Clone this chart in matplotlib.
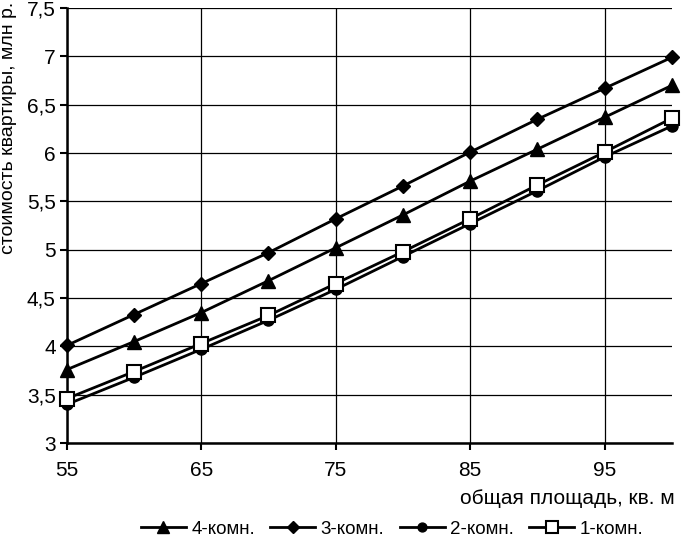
import numpy as np
import matplotlib
matplotlib.use('agg')
import matplotlib.pyplot as plt

plt.rcParams['font.family'] = ['Liberation Sans', 'DejaVu Sans']

area = [55, 60, 65, 70, 75, 80, 85, 90, 95, 100]
room4 = [3.76, 4.05, 4.35, 4.68, 5.02, 5.36, 5.71, 6.04, 6.37, 6.70]
room3 = [4.01, 4.33, 4.65, 4.97, 5.32, 5.66, 6.01, 6.35, 6.67, 6.99]
room2 = [3.40, 3.68, 3.97, 4.27, 4.59, 4.93, 5.27, 5.61, 5.96, 6.28]
room1 = [3.46, 3.74, 4.03, 4.32, 4.65, 4.98, 5.32, 5.67, 6.01, 6.36]
labels = ["4-комн.", "3-комн.", "2-комн.", "1-комн."]

xticks = [55, 65, 75, 85, 95]
yticks = np.arange(3, 7.51, 0.5)

fig = plt.figure(figsize=(6.82, 5.41), dpi=100)
ax = fig.add_axes([0.098, 0.181, 0.887, 0.804])

ax.plot(area, room4, color='black', lw=2, marker='^', ms=10, clip_on=False, zorder=3, label=labels[0])
ax.plot(area, room3, color='black', lw=2, marker='D', ms=7.5, clip_on=False, zorder=3, label=labels[1])
ax.plot(area, room2, color='black', lw=2, marker='o', ms=8, clip_on=False, zorder=3, label=labels[2])
ax.plot(area, room1, color='black', lw=2, marker='s', ms=10, mfc='white', mew=1.5,
        clip_on=False, zorder=4, label=labels[3])

ax.set_xlim(55, 100)
ax.set_ylim(3, 7.5)
ax.set_xticks(xticks)
ax.set_yticks(yticks)
ax.set_yticklabels([("%g" % v).replace('.', ',') for v in yticks])
ax.grid(True, color='black', lw=0.9)
ax.set_axisbelow(True)

for s in ['top', 'right']:
    ax.spines[s].set_visible(False)
for s in ['left', 'bottom']:
    ax.spines[s].set_linewidth(1.8)

ax.tick_params(axis='both', labelsize=15, width=1.5, length=5, direction='out')
ax.tick_params(axis='x', pad=8)
ax.tick_params(axis='y', pad=3)

ax.set_xlabel("общая площадь, кв. м", fontsize=15, loc='right', labelpad=2)
ax.xaxis.set_label_coords(1.005, -0.105)
ax.set_ylabel("стоимость квартиры, млн р.", fontsize=14, loc='top', labelpad=2)
ax.yaxis.set_label_coords(-0.082, 1.015)

fig.legend(loc='lower center', bbox_to_anchor=(0.575, -0.025), ncol=4, frameon=False,
           fontsize=13.5, handlelength=2.4, columnspacing=0.8, handletextpad=0.3,
           markerscale=0.8)

fig.savefig('out.png', dpi=100)
